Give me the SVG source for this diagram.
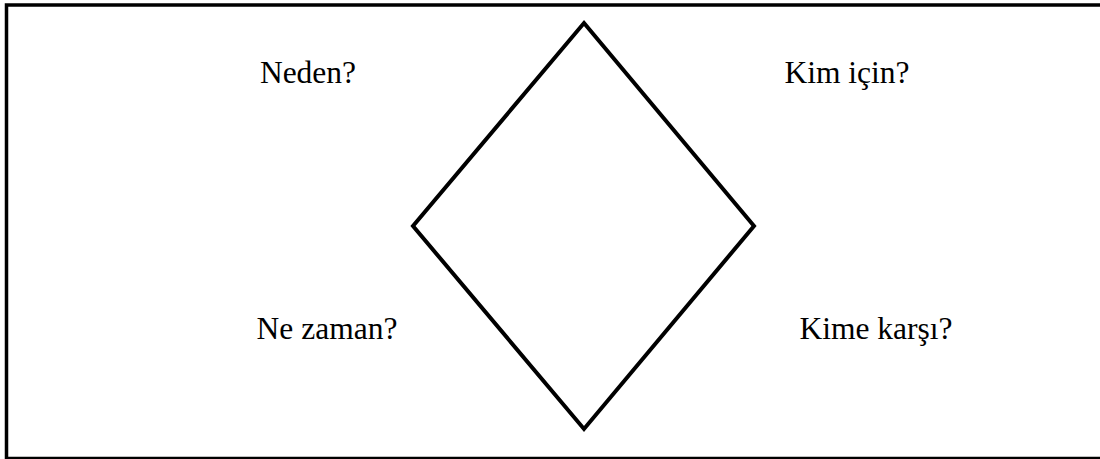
<svg xmlns="http://www.w3.org/2000/svg" width="1100" height="459" viewBox="0 0 1100 459">
<style>
.lbl{font-family:"Liberation Serif","Times New Roman",serif;font-size:31.5px;fill:#000;text-anchor:middle}
</style>
<rect x="0" y="0" width="1100" height="459" fill="#fff"/>
<path d="M1100,5 H6.5 V458.5 H1100" fill="none" stroke="#000" stroke-width="3.5"/>
<g id="diamond">
<polygon points="584,23 754,226 584,429 413,226" fill="none" stroke="#000" stroke-width="4" stroke-linejoin="miter"/>
</g>
<g id="neden"><text class="lbl" x="308" y="83">Neden?</text></g>
<g id="kim-icin"><text class="lbl" x="847" y="83">Kim için?</text></g>
<g id="ne-zaman"><text class="lbl" x="327" y="339">Ne zaman?</text></g>
<g id="kime-karsi"><text class="lbl" x="876" y="339">Kime karşı?</text></g>
<g id="connectors"></g>
</svg>
